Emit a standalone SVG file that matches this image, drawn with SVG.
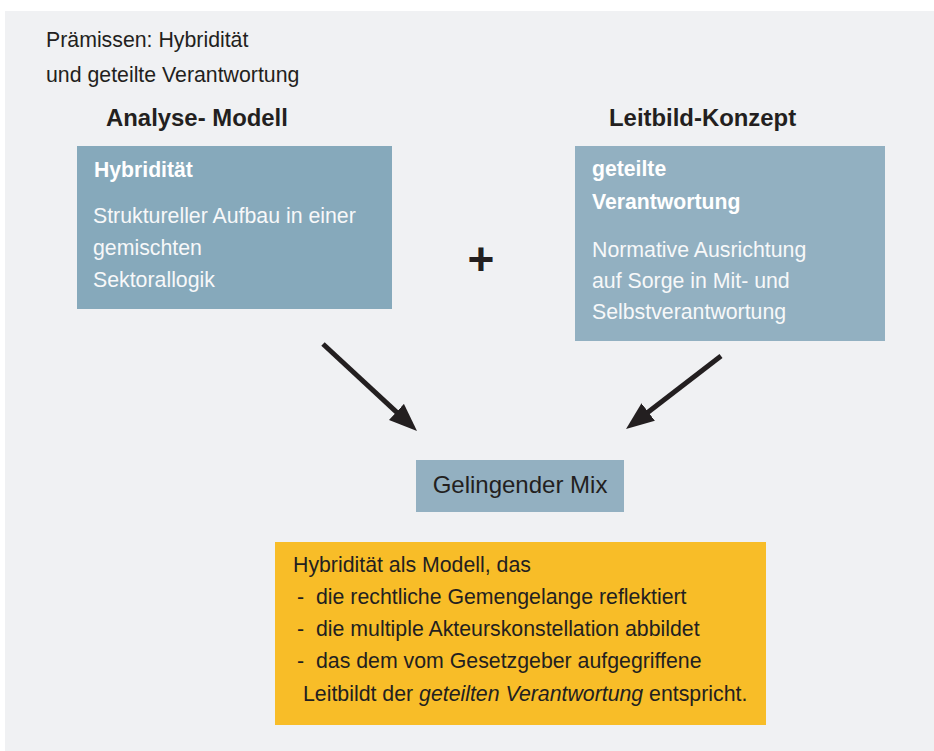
<svg xmlns="http://www.w3.org/2000/svg" width="934" height="751" viewBox="0 0 934 751">
  <style>
    text { font-family: "Liberation Sans", Arial, sans-serif; }
    .dark { fill: #231f20; font-size: 21.3px; }
    .title { fill: #231f20; font-size: 23.9px; font-weight: bold; }
    .head { fill: #ffffff; font-size: 21.2px; font-weight: bold; }
    .body { fill: #f7f8f9; font-size: 21.3px; }
    .arrow { stroke: #231f20; stroke-width: 5; fill: none; }
  </style>
  <defs>
    <marker id="arrowhead" markerUnits="userSpaceOnUse" markerWidth="30" markerHeight="24" refX="13" refY="11" orient="auto">
      <path d="M0,0 L28,11 L0,22 Z" fill="#231f20"/>
    </marker>
  </defs>

  <!-- page background -->
  <rect x="0" y="0" width="934" height="751" fill="#ffffff"/>
  <rect x="5" y="11" width="929" height="740" fill="#f0f1f3"/>

  <g id="premises">
    <text class="dark" x="46" y="47">Prämissen: Hybridität</text>
    <text class="dark" x="46" y="82">und geteilte Verantwortung</text>
  </g>

  <g id="title-analyse">
    <text class="title" x="106" y="126">Analyse- Modell</text>
  </g>
  <g id="title-leitbild">
    <text class="title" x="609" y="126">Leitbild-Konzept</text>
  </g>

  <g id="hybriditaet">
    <rect x="77" y="146" width="315" height="163" fill="#86a9bb"/>
    <text class="head" x="94" y="177">Hybridität</text>
    <text class="body" x="93" y="223">Struktureller Aufbau in einer</text>
    <text class="body" x="93" y="255">gemischten</text>
    <text class="body" x="93" y="287">Sektorallogik</text>
  </g>

  <g id="plus">
    <text x="481" y="275" text-anchor="middle" font-size="46" font-weight="bold" fill="#231f20">+</text>
  </g>

  <g id="verantwortung">
    <rect x="575" y="146" width="310" height="195" fill="#92b0c1"/>
    <text class="head" x="592" y="176">geteilte</text>
    <text class="head" x="592" y="209">Verantwortung</text>
    <text class="body" x="592" y="257">Normative Ausrichtung</text>
    <text class="body" x="592" y="288">auf Sorge in Mit- und</text>
    <text class="body" x="592" y="319">Selbstverantwortung</text>
  </g>

  <g id="mix">
    <rect x="416" y="460" width="208" height="52" fill="#93b0c1"/>
    <text x="520" y="493" text-anchor="middle" font-size="24" fill="#231f20">Gelingender Mix</text>
  </g>

  <g id="summary">
    <rect x="275" y="542" width="491" height="183" fill="#f8bd28"/>
    <text class="dark" x="293" y="572">Hybridität als Modell, das</text>
    <text class="dark" x="297" y="604">-</text>
    <text class="dark" x="316" y="604">die rechtliche Gemengelange reflektiert</text>
    <text class="dark" x="297" y="636">-</text>
    <text class="dark" x="316" y="636">die multiple Akteurskonstellation abbildet</text>
    <text class="dark" x="297" y="668">-</text>
    <text class="dark" x="316" y="668">das dem vom Gesetzgeber aufgegriffene</text>
    <text class="dark" x="303" y="701">Leitbildt der <tspan font-style="italic">geteilten Verantwortung</tspan> entspricht.</text>
  </g>

  <g id="connectors">
    <line class="arrow" x1="323" y1="344" x2="406" y2="420.8" marker-end="url(#arrowhead)"/>
    <line class="arrow" x1="721" y1="356" x2="637.9" y2="419.9" marker-end="url(#arrowhead)"/>
  </g>
</svg>
